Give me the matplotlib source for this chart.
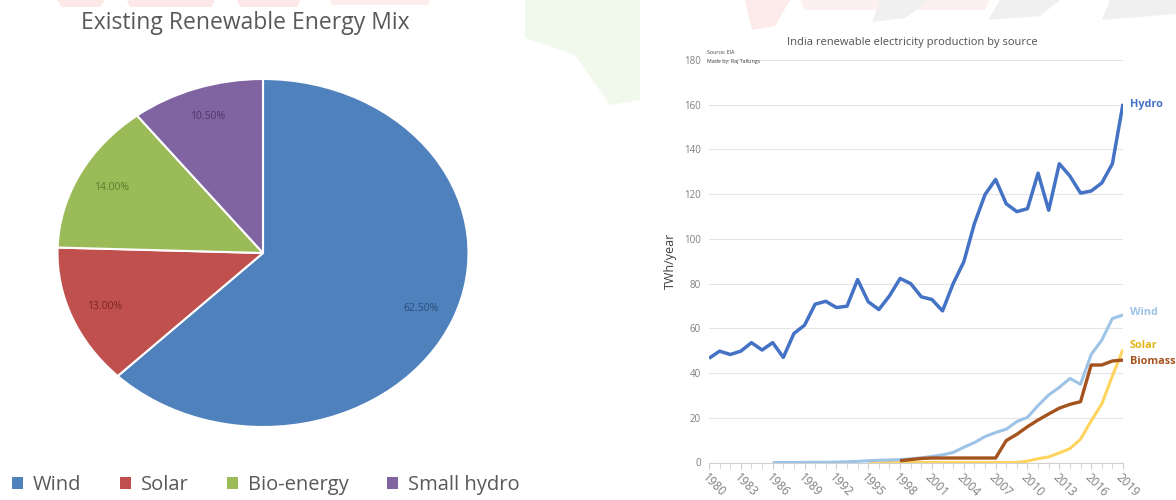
import matplotlib
matplotlib.use("Agg")
import matplotlib.pyplot as plt
from matplotlib.patches import Patch, Polygon

# ---------------- data ----------------
pie_labels = ["Wind", "Solar", "Bio-energy", "Small hydro"]
pie_values = [62.5, 13.0, 14.0, 10.5]
pie_colors = ["#4F81BD", "#C0504D", "#9BBB59", "#8064A2"]
pie_text_colors = ["#2C4D7A", "#7A2624", "#5C7A2A", "#4B3566"]

years = list(range(1980, 2020))
hydro = [46.6, 49.8, 48.3, 49.8, 53.6, 50.3, 53.6, 47.0, 57.7, 61.4,
         70.8, 72.1, 69.3, 69.9, 81.8, 71.9, 68.4, 74.5, 82.3, 80.0,
         74.1, 72.9, 67.8, 80.0, 89.7, 106.8, 119.8, 126.6, 115.7, 112.2,
         113.5, 129.4, 112.8, 133.6, 128.1, 120.5, 121.4, 125.0, 133.6, 160.4]
wind_years = list(range(1986, 2020))
wind = [0.0, 0.0, 0.0, 0.05, 0.1, 0.1, 0.2, 0.3, 0.5, 0.8,
        1.0, 1.1, 1.3, 1.6, 2.1, 2.7, 3.4, 4.5, 6.8, 8.9,
        11.6, 13.4, 14.9, 18.3, 20.2, 25.5, 30.2, 33.6, 37.6, 35.0,
        48.3, 54.7, 64.4, 66.0]
solar_years = list(range(1995, 2020))
solar = [0.0, 0.0, 0.0, 0.0, 0.0, 0.0, 0.0, 0.0, 0.0, 0.0,
         0.0, 0.0, 0.0, 0.0, 0.0, 0.6, 1.7, 2.5, 4.3, 6.2,
         10.4, 18.6, 26.2, 38.7, 50.6]
biomass_years = list(range(1998, 2020))
biomass = [0.8, 1.3, 1.8, 2.0, 2.0, 2.0, 2.0, 2.0, 2.0, 2.0,
           9.8, 12.6, 16.0, 19.0, 21.7, 24.3, 26.0, 27.2, 43.6, 43.6,
           45.4, 45.8]
series_names = ["Hydro", "Wind", "Solar", "Biomass"]
line_colors = ["#4472C4", "#9DC3E6", "#FFD45E", "#A5531E"]
label_colors = ["#4472C4", "#9DC3E6", "#E2B417", "#A5531E"]
label_y = [160.0, 66.9, 52.5, 45.0]
xtick_years = list(range(1980, 2020, 3))
yticks = list(range(0, 181, 20))

W, H = 1176, 500
fig = plt.figure(figsize=(W / 100, H / 100), dpi=100)
fig.patch.set_facecolor("white")

def fx(px):
    return px / W

def fy(py):
    return 1 - py / H

FONT = ["Open Sans", "DejaVu Sans"]

# faint watermark shapes in the background
def wm(pts, color):
    fig.patches.append(Polygon([(fx(a), fy(b)) for a, b in pts], closed=True,
                               transform=fig.transFigure, facecolor=color,
                               edgecolor="none", zorder=-5))

wm([(57, 0), (105, 0), (100, 7), (62, 7)], "#FDE8E8")
wm([(127, 0), (215, 0), (212, 7), (130, 7)], "#FDE8E8")
wm([(237, 0), (300, 0), (298, 7), (240, 7)], "#FDE8E8")
wm([(330, 0), (430, 0), (428, 5), (332, 5)], "#FDEEEE")
wm([(525, 0), (640, 0), (640, 100), (610, 105), (575, 55), (525, 38)], "#F1F8EC")
wm([(745, 0), (790, 0), (775, 26), (752, 30)], "#FDEBEB")
wm([(800, 0), (990, 0), (985, 10), (805, 10)], "#FDF0F0")
wm([(880, 0), (930, 0), (905, 18), (872, 22)], "#F0F0F0")
wm([(1000, 0), (1060, 0), (1040, 16), (988, 20)], "#F0F0F0")
wm([(1110, 0), (1176, 0), (1176, 14), (1102, 20)], "#F0F0F0")

# ---------------- pie ----------------
axp = fig.add_axes([fx(57.5), fy(427), fx(468.5) - fx(57.5), fy(79) - fy(427)])
axp.set_facecolor("none")
axp.set_zorder(2)
wedges, texts, autotexts = axp.pie(
    pie_values, colors=pie_colors, startangle=90, counterclock=False,
    autopct="%1.2f%%", pctdistance=0.83,
    wedgeprops=dict(edgecolor="white", linewidth=1.5),
    textprops=dict(fontsize=7.5, family=FONT))
for t, c in zip(autotexts, pie_text_colors):
    t.set_color(c)
axp.set_aspect("auto")
axp.set_xlim(-1, 1)
axp.set_ylim(-1, 1)

fig.text(fx(245), fy(23), "Existing Renewable Energy Mix", ha="center", va="center",
         fontsize=16.5, color="#595959", family=FONT)

handles = [Patch(facecolor=c, edgecolor="none") for c in pie_colors]
fig.legend(handles, pie_labels, loc="center", bbox_to_anchor=(fx(266), fy(485)),
           ncol=4, frameon=False, handlelength=0.55, handleheight=0.55,
           handletextpad=0.5, columnspacing=1.9,
           prop=dict(family=FONT, size=14.5), labelcolor="#595959")

# ---------------- line chart ----------------
axl = fig.add_axes([fx(709), fy(462.5), fx(1123) - fx(709), fy(60) - fy(462.5)])
axl.set_facecolor("none")
axl.set_zorder(2)
all_x = [years, wind_years, solar_years, biomass_years]
all_y = [hydro, wind, solar, biomass]
z = [4, 3, 2, 3.5]
widths = [2.5, 2.2, 2.2, 2.4]
for xs, ys, c, zz, lw in zip(all_x, all_y, line_colors, z, widths):
    axl.plot(xs, ys, color=c, lw=lw, zorder=zz, solid_capstyle="butt")
axl.set_xlim(1980, 2019)
axl.set_ylim(0, 180)
axl.set_yticks(yticks)
axl.set_xticks(xtick_years)
axl.set_xticks(years, minor=True)
axl.yaxis.grid(True, color="#E4E4E4", lw=0.8)
axl.set_axisbelow(True)
for s in ["top", "right", "left"]:
    axl.spines[s].set_visible(False)
axl.spines["bottom"].set_color("#D0D0D0")
axl.tick_params(axis="y", length=0, pad=6, labelsize=7, labelcolor="#7F7F7F")
axl.tick_params(axis="x", which="both", direction="out", length=4, color="#D0D0D0",
                labelsize=8.5, labelcolor="#7F7F7F", pad=2)
for lab in axl.get_yticklabels() + axl.get_xticklabels():
    lab.set_family(FONT)
for lab in axl.get_xticklabels():
    lab.set_rotation(-45)
    lab.set_ha("left")
    lab.set_rotation_mode("anchor")
axl.set_ylabel("TWh/year", fontsize=9, color="#404040", family=FONT, labelpad=5)

for name, yv, c in zip(series_names, label_y, label_colors):
    axl.annotate(name, xy=(2019, yv), xytext=(5, 0), textcoords="offset points",
                 ha="left", va="center", fontsize=7.8, fontweight="bold", color=c,
                 family=FONT, annotation_clip=False)

fig.text(fx(912), fy(43), "India renewable electricity production by source", ha="center",
         va="center", fontsize=8, color="#505050", family=FONT)
fig.text(fx(707), fy(52), "Source: EIA", ha="left", va="center", fontsize=3.8,
         color="#404040", family=FONT)
fig.text(fx(707), fy(62), "Made by: Raj Tallungs", ha="left", va="center", fontsize=3.8,
         color="#404040", family=FONT)

fig.savefig("out.png", dpi=100)
